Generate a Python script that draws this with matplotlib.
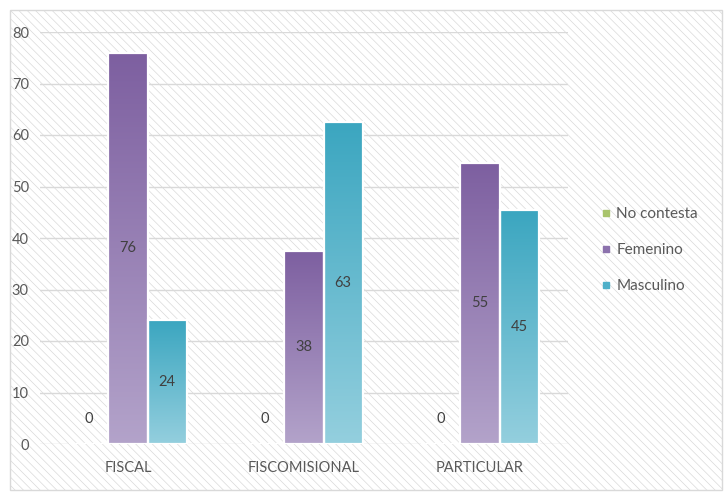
import numpy as np
import matplotlib
matplotlib.use("Agg")
import matplotlib.pyplot as plt
from matplotlib.colors import LinearSegmentedColormap
from matplotlib.patches import Rectangle
from matplotlib.lines import Line2D

plt.rcParams['font.family'] = ['Lato', 'DejaVu Sans']
plt.rcParams['hatch.linewidth'] = 0.5
plt.rcParams['hatch.color'] = '#e4e4e4'

# ── data ────────────────────────────────────────────────────────────────────
categories = ['FISCAL', 'FISCOMISIONAL', 'PARTICULAR']
series_names = ['No contesta', 'Femenino', 'Masculino']
no_contesta = [0, 0, 0]
femenino = [76, 37.5, 54.6]
masculino = [24, 62.5, 45.4]
yticks = [0, 10, 20, 30, 40, 50, 60, 70, 80]

# ── style ───────────────────────────────────────────────────────────────────
GRAD = {
    'No contesta': ('#9bbb59', '#c3d69b'),
    'Femenino': ('#7d5fa0', '#b3a3ca'),
    'Masculino': ('#3ba6c0', '#94cfde'),
}
LEGEND_COLORS = {'No contesta': '#a9c46c', 'Femenino': '#8c72ad', 'Masculino': '#4fb0c9'}
TEXT = '#595959'
GRID = '#d9d9d9'

fig = plt.figure(figsize=(7.28, 4.96), dpi=100)

# chart area background with diagonal hatch and light border
bg = fig.add_axes([0, 0, 1, 1], zorder=-5)
bg.set_axis_off()
bg.set_xlim(0, 728)
bg.set_ylim(496, 0)
bg.add_patch(Rectangle((10, 10), 712, 480, facecolor='white', edgecolor='#d9d9d9',
                       hatch='\\\\\\\\', linewidth=1.0))

ax = fig.add_axes([40 / 728, 1 - 444 / 496, (568 - 40) / 728, (444 - 32) / 496])
ax.patch.set_alpha(0)
for s in ax.spines.values():
    s.set_visible(False)

x = np.arange(len(categories))
w = 0.222
series = [no_contesta, femenino, masculino]
for k, (name, vals) in enumerate(zip(series_names, series)):
    pos = x + (k - 1) * w
    bars = ax.bar(pos, vals, width=w, facecolor='none', edgecolor='white',
                  linewidth=1.6, zorder=4)
    cmap = LinearSegmentedColormap.from_list(name, [GRAD[name][1], GRAD[name][0]])
    grad = np.linspace(0, 1, 256).reshape(-1, 1)
    for b, v in zip(bars, vals):
        if v <= 0:
            continue
        img = ax.imshow(grad, extent=[b.get_x(), b.get_x() + b.get_width(), 0, v],
                        origin='lower', aspect='auto', cmap=cmap, zorder=3)
        img.set_clip_path(b)
        ax.text(b.get_x() + b.get_width() / 2, v / 2, f'{int(v + 0.5)}',
                ha='center', va='center', fontsize=10.5, color='#404040', zorder=5)
    if max(vals) == 0:
        for b in bars:
            ax.annotate('0', (b.get_x() + b.get_width() / 2, 0), xytext=(0, 18),
                        textcoords='offset points', ha='center', va='center',
                        fontsize=10.5, color='#404040', zorder=5)

ax.set_xlim(-0.5, len(categories) - 0.5)
ax.set_ylim(0, 80)
ax.set_yticks(yticks)
ax.set_yticklabels([str(t) for t in yticks])
ax.set_xticks(x)
ax.set_xticklabels(categories)
ax.tick_params(axis='both', length=0, labelsize=10.5, labelcolor=TEXT)
ax.tick_params(axis='y', pad=8)
ax.tick_params(axis='x', pad=12)
ax.yaxis.grid(True, color=GRID, linewidth=1.0, zorder=0)
ax.set_axisbelow(True)

handles = [Line2D([], [], marker='s', linestyle='none', markersize=5,
                  markerfacecolor=LEGEND_COLORS[n], markeredgecolor=LEGEND_COLORS[n])
           for n in series_names]
leg = fig.legend(handles, series_names, loc='center left',
                 bbox_to_anchor=(585 / 728, 1 - 250 / 496), frameon=False,
                 fontsize=11, labelspacing=1.45, handletextpad=0.15, handlelength=1.0)
for t in leg.get_texts():
    t.set_color(TEXT)

fig.savefig('out.png', dpi=100)
